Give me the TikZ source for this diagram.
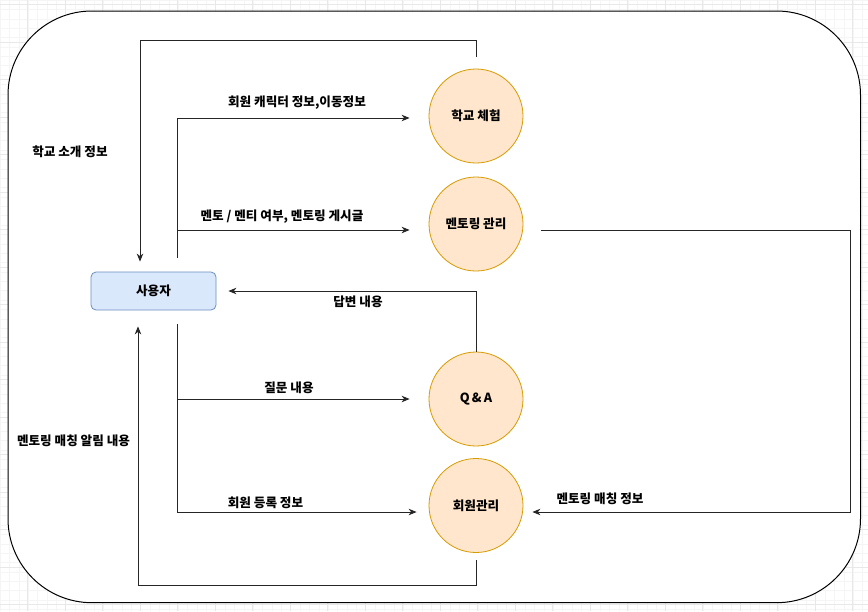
\documentclass[tikz,border=0pt]{standalone}
\usepackage{fontspec}
\setmainfont{Noto Sans CJK KR}
\usetikzlibrary{arrows.meta,calc}
\definecolor{procfill}{HTML}{FFE6CC}
\definecolor{procline}{HTML}{D79B00}
\definecolor{actfill}{HTML}{DAE8FC}
\definecolor{actline}{HTML}{6C8EBF}
\begin{document}
\begin{tikzpicture}[x=1pt,y=-1pt,
  every node/.style={font=\fontsize{12.6}{14}\selectfont\bfseries, inner sep=0pt},
  proc/.style={circle, draw=procline, fill=procfill, minimum size=94pt, line width=0.8pt},
  actor/.style={rectangle, rounded corners=5pt, draw=actline, fill=actfill, minimum width=125pt, minimum height=38pt, line width=0.8pt},
  flow/.style={draw=black!85, line width=0.9pt},
  arr/.style={flow, -{Stealth[length=8pt,width=6.5pt,inset=2.5pt]}},
  lbl/.style={fill=none, text=black}
]
\useasboundingbox (0,0) rectangle (868,611);
% faint canvas grid
\draw[black!4, line width=0.5pt] (0,0) grid[step=9.375pt] (868,611);
\foreach \gx in {27.5,65,...,868} \draw[black!9, line width=0.6pt] (\gx,0) -- (\gx,611);
\foreach \gy in {4.5,42,...,611} \draw[black!9, line width=0.6pt] (0,\gy) -- (868,\gy);
% system boundary
\draw[fill=white, line width=1pt, rounded corners=84pt] (8,11) rectangle (860.5,602.7);

% nodes
\node[actor] (u) at (153.5,291) {사용자};
\node[proc] (c1) at (476,116) {학교 체험};
\node[proc] (c2) at (476,224) {멘토링 관리};
\node[proc] (c3) at (476,399) {Q\,\&\,A};
\node[proc] (c4) at (476,505.5) {회원관리};

% routing points
\coordinate (L1) at (140,40);
\coordinate (t1) at (177,258);
\coordinate (j2) at (177,230);
\coordinate (r1) at (850,230);
\coordinate (r2) at (850,512);
\coordinate (b1) at (177,324);
\coordinate (b2) at (177,512);
\coordinate (L2) at (138,585);

% school intro info back to the user
\draw[arr, shorten <=12pt, shorten >=10pt] (c1.north) |- (L1) -- (L1 |- u.north);
% user -> school experience
\draw[arr, shorten >=19pt] (t1) |- ($(c1.west)+(0,2)$);
% user -> mentoring management
\draw[arr, shorten >=19pt] (j2) -- (j2 -| c2.west);
% mentoring management -> member management
\draw[arr, shorten <=18pt, shorten >=9pt] (c2.east |- r1) -- (r1) -- (r2) -- (r2 -| c4.east);
% Q&A answer -> user
\draw[arr, shorten >=12pt] (c3.north) |- (u.east);
% user -> Q&A / member management
\draw[arr, shorten >=19pt] (b1 |- c3.west) -- (c3.west);
\draw[arr, shorten >=12pt] (b1) |- (b2 -| c4.west);
% member management notice -> user
\draw[arr, shorten <=7pt, shorten >=16pt] (c4.south) |- (L2) -- (L2 |- u.south);

% labels
\node[lbl] (l1) at (70,152) {학교 소개 정보};
\node[lbl] (l2) at (297,103) {회원 캐릭터 정보,이동정보};
\node[lbl] (l3) at (282,217) {멘토 / 멘티 여부, 멘토링 게시글};
\node[lbl] (l4) at (358,302) {답변 내용};
\node[lbl] (l5) at (289,388) {질문 내용};
\node[lbl] (l6) at (265.5,503) {회원 등록 정보};
\node[lbl] (l7) at (73.5,441) {멘토링 매칭 알림 내용};
\node[lbl] (l8) at (600,499) {멘토링 매칭 정보};
\end{tikzpicture}
\end{document}
